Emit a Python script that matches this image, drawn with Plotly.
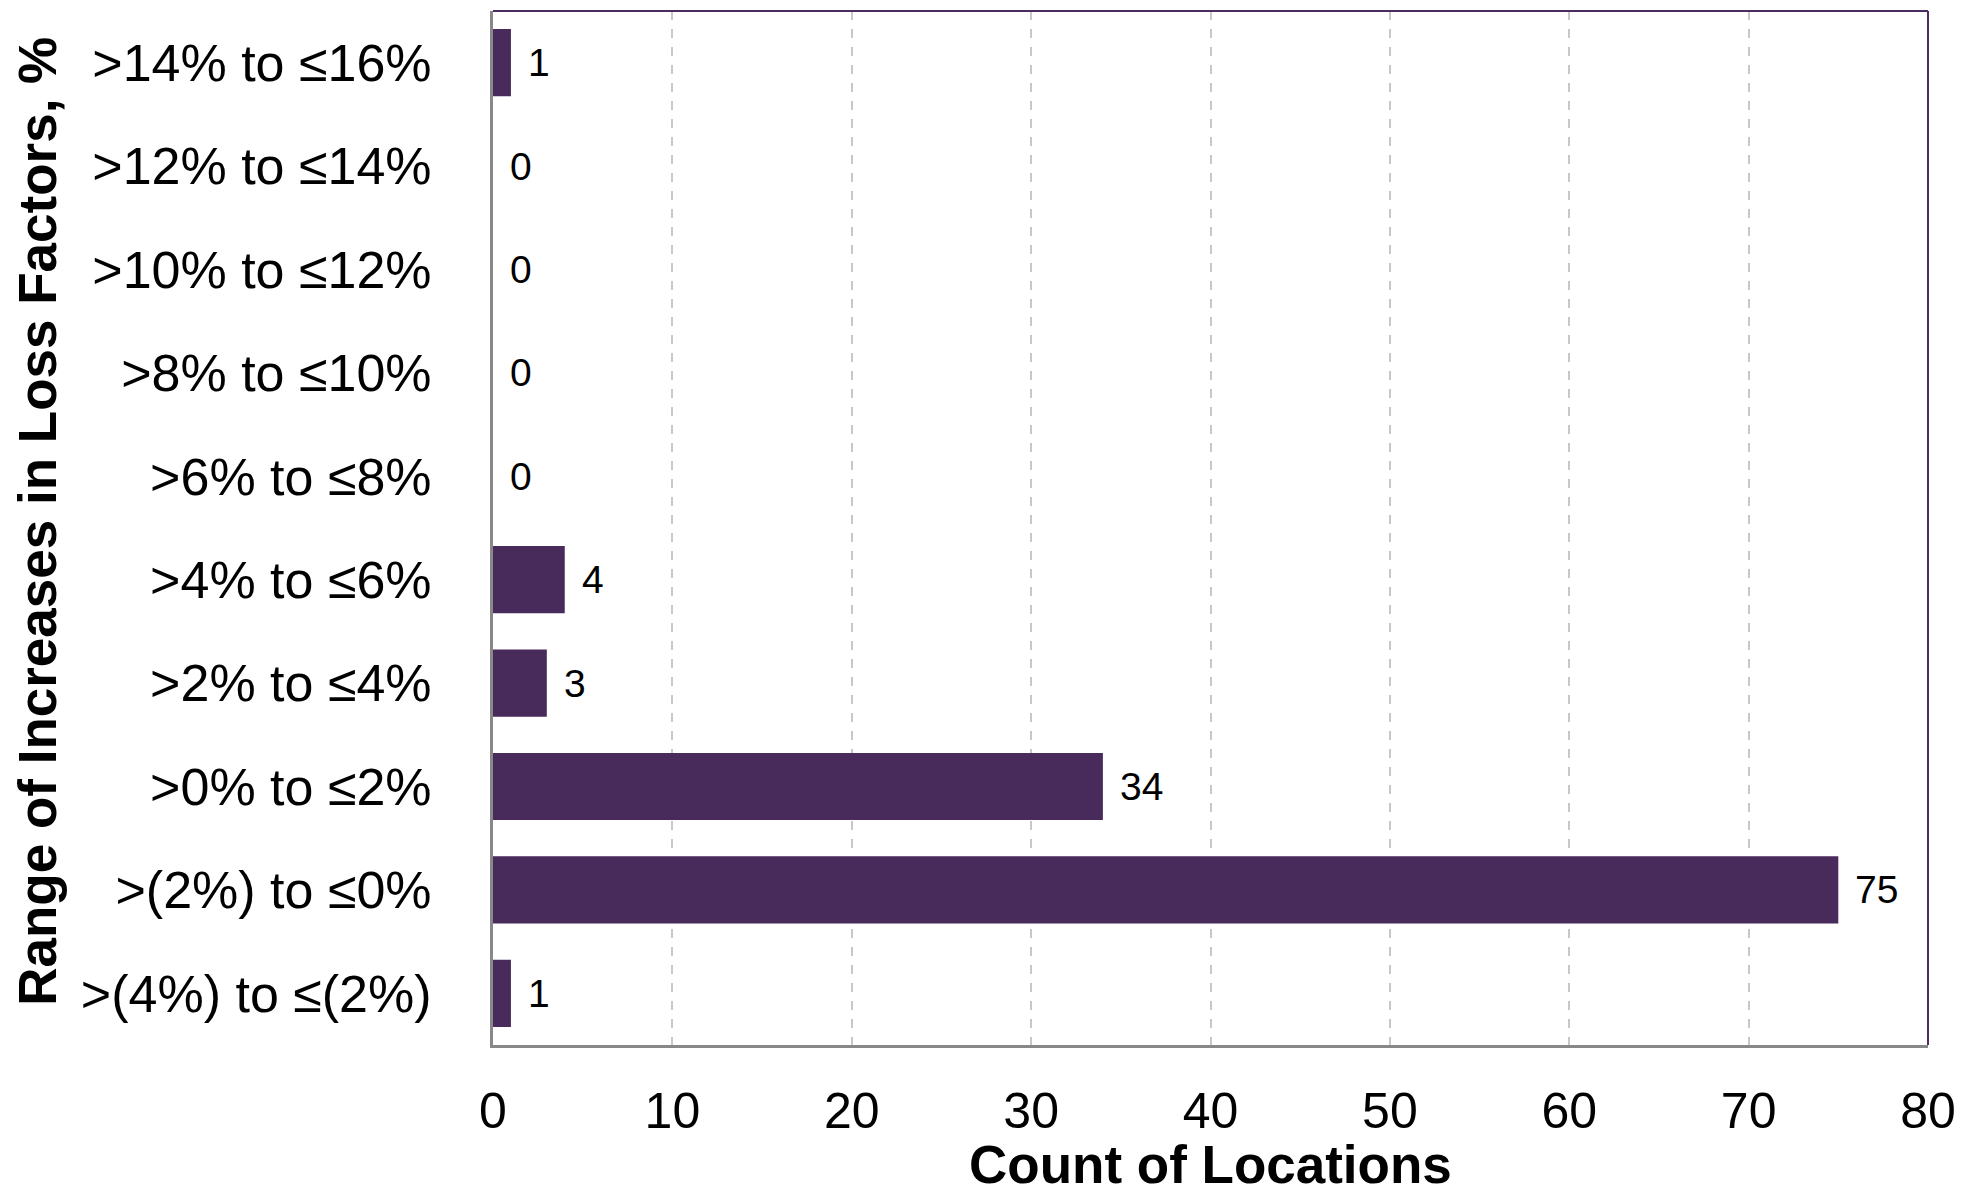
import plotly.graph_objects as go

# Ranges of loss-factor increase (bottom to top) and number of locations in each
ranges = [
    ">(4%) to ≤(2%)",
    ">(2%) to ≤0%",
    ">0% to ≤2%",
    ">2% to ≤4%",
    ">4% to ≤6%",
    ">6% to ≤8%",
    ">8% to ≤10%",
    ">10% to ≤12%",
    ">12% to ≤14%",
    ">14% to ≤16%",
]
counts = [1, 75, 34, 3, 4, 0, 0, 0, 0, 1]
x_ticks = [0, 10, 20, 30, 40, 50, 60, 70, 80]

BAR = "#482a5b"
FONT = "Liberation Sans, Arial, sans-serif"

W, H = 1961, 1197
ML, MR, MT, MB = 493, 33, 11, 152
PW, PH = W - ML - MR, H - MT - MB

fig = go.Figure(
    go.Bar(
        x=counts,
        y=ranges,
        orientation="h",
        marker=dict(color=BAR, line=dict(width=0)),
        width=0.65,
        hoverinfo="x+y",
    )
)

# value labels just past the end of each bar
for c, r in zip(counts, ranges):
    fig.add_annotation(
        x=c, y=r, xref="x", yref="y",
        text=str(c), showarrow=False,
        xanchor="left", yanchor="middle", xshift=15,
        font=dict(family=FONT, size=39, color="#000000"),
    )

fig.update_layout(
    width=W,
    height=H,
    margin=dict(l=ML, r=MR, t=MT, b=MB),
    paper_bgcolor="white",
    plot_bgcolor="white",
    showlegend=False,
    font=dict(family=FONT, color="#000000"),
    shapes=[
        # purple top and right frame edges
        dict(type="line", xref="paper", yref="paper", x0=0, x1=1, y0=1, y1=1,
             line=dict(color="#4a2c5e", width=2)),
        dict(type="line", xref="paper", yref="paper", x0=1, x1=1, y0=0, y1=1,
             line=dict(color="#4a2c5e", width=2)),
    ],
)

fig.update_xaxes(
    range=[0, 80],
    tickvals=x_ticks,
    ticktext=[str(v) for v in x_ticks],
    tickfont=dict(family=FONT, size=50, color="#000000"),
    ticklabelstandoff=20,
    automargin=False,
    showgrid=True,
    gridcolor="#c8c8c8",
    griddash="dash",
    gridwidth=2,
    showline=True,
    linecolor="#888888",
    linewidth=3,
    zeroline=False,
    ticks="",
    title=None,
)

fig.update_yaxes(
    categoryorder="array",
    categoryarray=ranges,
    tickfont=dict(family=FONT, size=52, color="#000000"),
    ticklabelstandoff=48,
    automargin=False,
    showgrid=False,
    showline=True,
    linecolor="#888888",
    linewidth=3,
    zeroline=False,
    ticks="",
    title=None,
)

# axis titles
fig.add_annotation(
    xref="paper", yref="paper",
    x=0.5, y=-(MB - 2) / PH,
    text="<b>Count of Locations</b>",
    showarrow=False, xanchor="center", yanchor="bottom",
    borderpad=0,
    font=dict(family=FONT, size=53, color="#000000"),
)
fig.add_annotation(
    xref="paper", yref="paper",
    x=(38 - ML) / PW, y=0.506,
    text="<b>Range of Increases in Loss Factors, %</b>",
    textangle=-90, showarrow=False,
    xanchor="center", yanchor="middle",
    font=dict(family=FONT, size=53, color="#000000"),
)

fig.write_html("out.html")
